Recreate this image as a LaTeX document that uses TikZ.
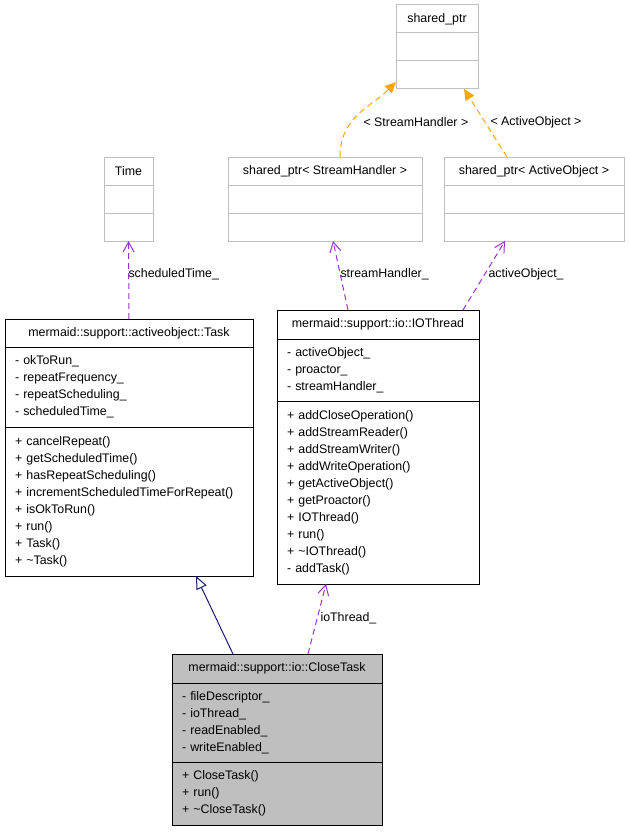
\documentclass[tikz,border=0pt]{standalone}
\usepackage{fontspec}
\setmainfont{Liberation Sans}
\usetikzlibrary{arrows.meta, positioning}

\definecolor{boxgray}{RGB}{191,191,191}
\definecolor{fillgray}{RGB}{191,191,191}
\definecolor{linkpurple}{RGB}{154,50,205}
\definecolor{tmplorange}{RGB}{255,165,0}
\definecolor{inhblue}{RGB}{25,25,112}

\begin{document}
\begin{tikzpicture}[x=1pt,y=-1pt,line width=1pt,font=\fontsize{12.4}{17}\selectfont]
            \useasboundingbox (0,0) rectangle (629,832);
            \tikzstyle{hdr}=[draw,inner sep=0pt,outer sep=0pt,anchor=north west,minimum height=28pt]
            \tikzstyle{members}=[draw,inner xsep=10pt,inner ysep=0pt,outer sep=0pt,align=left]
            \tikzstyle{ext}=[draw=boxgray,inner sep=0pt,outer sep=0pt,minimum height=28pt]
            \tikzstyle{lbl}=[anchor=west,inner sep=1pt]
            \tikzstyle{dep}=[draw=linkpurple,dash pattern=on 6pt off 4pt,-{Straight Barb[length=10pt,width=11pt]}]
            \tikzstyle{tmpl}=[draw=tmplorange,dash pattern=on 6pt off 4pt,-{Triangle[length=11pt,width=10pt]}]
            \tikzstyle{inh}=[draw=inhblue,-{Triangle[open,length=13pt,width=11pt,fill=white]}]

            % template classes
            \node[hdr,ext,minimum width=82pt] (sp) at (396,5) {shared\_ptr};
            \node[ext,minimum width=82pt,below=0pt of sp] (sp_1) {};
            \node[ext,minimum width=82pt,below=0pt of sp_1] (sp_2) {};

            \node[hdr,ext,minimum width=49pt] (time) at (104,157) {Time};
            \node[ext,minimum width=49pt,below=0pt of time] (time_1) {};
            \node[ext,minimum width=49pt,below=0pt of time_1] (time_2) {};

            \node[hdr,ext,minimum width=194pt] (sp_sh) at (228,157) {shared\_ptr< StreamHandler >};
            \node[ext,minimum width=194pt,below=0pt of sp_sh] (sp_sh_1) {};
            \node[ext,minimum width=194pt,below=0pt of sp_sh_1] (sp_sh_2) {};

            \node[hdr,ext,minimum width=180pt] (sp_ao) at (444,157) {shared\_ptr< ActiveObject >};
            \node[ext,minimum width=180pt,below=0pt of sp_ao] (sp_ao_1) {};
            \node[ext,minimum width=180pt,below=0pt of sp_ao_1] (sp_ao_2) {};

            % Task
            \node[hdr,minimum width=248pt] (task) at (5,319) {mermaid::support::activeobject::Task};
            \node[members,text width=228pt,minimum height=80pt,below=0pt of task] (task_a)
                {- okToRun\_\\- repeatFrequency\_\\- repeatScheduling\_\\- scheduledTime\_};
            \node[members,text width=228pt,minimum height=149pt,below=0pt of task_a] (task_m)
                {+ cancelRepeat()\\+ getScheduledTime()\\+ hasRepeatScheduling()\\+ incrementScheduledTimeForRepeat()\\+ isOkToRun()\\+ run()\\+ Task()\\+ \textasciitilde Task()};

            % IOThread
            \node[hdr,minimum width=202pt,minimum height=29pt] (io) at (277,310) {mermaid::support::io::IOThread};
            \node[members,text width=182pt,minimum height=62pt,below=0pt of io] (io_a)
                {- activeObject\_\\- proactor\_\\- streamHandler\_};
            \node[members,text width=182pt,minimum height=183pt,below=0pt of io_a] (io_m)
                {+ addCloseOperation()\\+ addStreamReader()\\+ addStreamWriter()\\+ addWriteOperation()\\+ getActiveObject()\\+ getProactor()\\+ IOThread()\\+ run()\\+ \textasciitilde IOThread()\\- addTask()};

            % CloseTask
            \node[hdr,fill=fillgray,minimum width=210pt,minimum height=29pt] (ct) at (172,654) {mermaid::support::io::CloseTask};
            \node[members,fill=fillgray,text width=190pt,minimum height=79pt,below=0pt of ct] (ct_a)
                {- fileDescriptor\_\\- ioThread\_\\- readEnabled\_\\- writeEnabled\_};
            \node[members,fill=fillgray,text width=190pt,minimum height=63pt,below=0pt of ct_a] (ct_m)
                {+ CloseTask()\\+ run()\\+ \textasciitilde CloseTask()};

            % connectors
            \draw[tmpl] ([xshift=15pt]sp_sh.north) .. controls +(0,-40) and +(-25,25) .. ([yshift=7pt]sp_2.south west);
            \draw[tmpl] ([xshift=-27pt]sp_ao.north) -- ([xshift=27pt]sp_2.south);
            \draw[dep] (task.north) -- (time_2.south);
            \draw[dep] ([xshift=-30pt]io.north) -- ([xshift=8pt]sp_sh_2.south);
            \draw[dep] ([xshift=85pt]io.north) -- ([xshift=-29pt]sp_ao_2.south);
            \draw[dep] ([xshift=31pt]ct.north) -- ([xshift=-52pt]io_m.south);
            \draw[inh] ([xshift=-44pt]ct.north) -- ([xshift=67pt]task_m.south);

            \node[lbl] (l_tsh) at (362,122) {< StreamHandler >};
            \node[lbl] (l_tao) at (489,122) {< ActiveObject >};
            \node[lbl] (l_sched) at (127,274) {scheduledTime\_};
            \node[lbl] (l_sh) at (339,274) {streamHandler\_};
            \node[lbl] (l_ao) at (487,274) {activeObject\_};
            \node[lbl] (l_io) at (319,618) {ioThread\_};
\end{tikzpicture}
\end{document}
